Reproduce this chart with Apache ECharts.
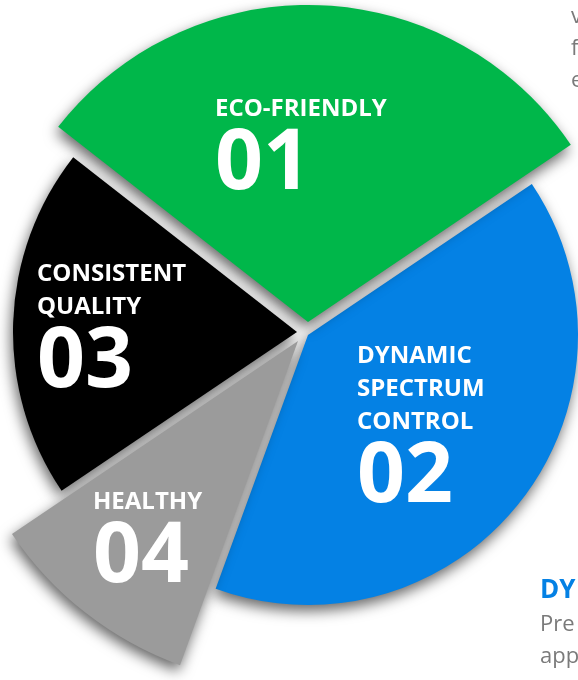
<!DOCTYPE html>
<html>
<head>
<meta charset="utf-8">
<script src="https://cdn.jsdelivr.net/npm/echarts@6/dist/echarts.min.js"></script>
<style>
  html, body { margin: 0; padding: 0; background: #fff; }
  #chart { width: 578px; height: 680px; }
</style>
</head>
<body>
<div id="chart"></div>
<script>
// 分类（顺时针，从左上开始）
const categories = ['ECO-FRIENDLY', 'DYNAMIC\nSPECTRUM\nCONTROL', 'HEALTHY', 'CONSISTENT\nQUALITY']
const numbers = ['01', '02', '04', '03']
// 各扇区所占份额（角度比例）
const shares = [30, 40, 10, 20]
const colors = ['#00b74a', '#0481e4', '#9b9b9b', '#000000']

// 每个扇区单独的圆心、半径、层级和标签位置
const sliceLayout = [
  { center: [308, 322], r: 317, z: 4, label: [215, 93] },
  { center: [308, 335], r: 270, z: 2, label: [357, 340] },
  { center: [298, 341], r: 345, z: 3, label: [93, 486] },
  { center: [297, 332], r: 284, z: 1, label: [37, 258] }
]

let myChart = echarts.init(document.getElementById('chart'))

let series = sliceLayout.map((lay, i) => ({
  type: 'pie',
  center: lay.center,
  radius: [0, lay.r],
  startAngle: 142,
  clockwise: true,
  z: lay.z,
  silent: true,
  animation: false,
  avoidLabelOverlap: false,
  labelLine: { show: false },
  label: {
    position: 'inside',
    color: '#fff',
    fontFamily: 'Open Sans',
    fontWeight: 'bold',
    align: 'left',
    formatter: p => p.name.split('\n').map(s => '{t|' + s + '}').join('\n') + '\n{n|' + numbers[p.dataIndex] + '}',
    rich: {
      t: { fontSize: 24, fontWeight: 'bold', lineHeight: 33, color: '#fff', fontFamily: 'Open Sans' },
      n: { fontSize: 84, fontWeight: 'bold', lineHeight: 78, color: '#fff', fontFamily: 'Open Sans' }
    }
  },
  labelLayout: { x: lay.label[0], y: lay.label[1], align: 'left', verticalAlign: 'top' },
  data: shares.map((v, j) => ({
    value: v,
    name: categories[j],
    label: { show: j === i },
    itemStyle: j === i ? {
      color: colors[j],
      shadowBlur: 14,
      shadowColor: 'rgba(0,0,0,0.6)',
      shadowOffsetX: -2,
      shadowOffsetY: 6
    } : { color: 'rgba(0,0,0,0)' }
  }))
}))

let options = {
  backgroundColor: '#fff',
  // 右侧被裁掉的说明文字
  graphic: [
    { type: 'text', left: 571, top: 6, style: { text: 'v', fill: '#7a7a7a', font: '22px "Open Sans"' } },
    { type: 'text', left: 571, top: 38, style: { text: 'f', fill: '#7a7a7a', font: '22px "Open Sans"' } },
    { type: 'text', left: 571, top: 70, style: { text: 'e', fill: '#7a7a7a', font: '22px "Open Sans"' } },
    { type: 'text', left: 540, top: 578, style: { text: 'DY', fill: '#0481e4', font: 'bold 26px "Open Sans"' } },
    { type: 'text', left: 540, top: 614, style: { text: 'Pre', fill: '#7a7a7a', font: '22px "Open Sans"' } },
    { type: 'text', left: 540, top: 646, style: { text: 'app', fill: '#7a7a7a', font: '22px "Open Sans"' } }
  ],
  series: series
}

myChart.setOption(options)
</script>
</body>
</html>
